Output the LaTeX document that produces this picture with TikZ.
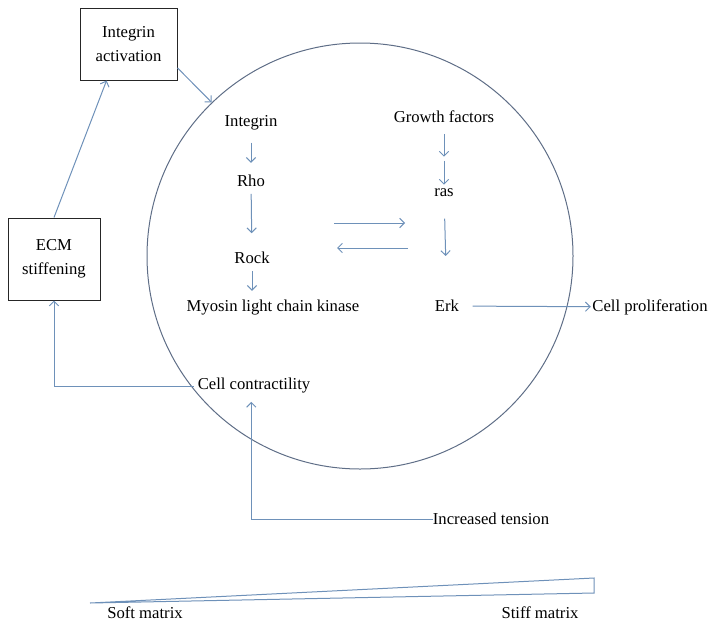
\documentclass[tikz,border=0pt]{standalone}
\usepackage{fontspec}
\setmainfont{Liberation Serif}
\usetikzlibrary{arrows.meta}
\definecolor{arrowblue}{RGB}{110,145,185}
\definecolor{cellgrey}{RGB}{95,110,135}
\tikzset{
    flow/.style={draw=arrowblue, line width=0.75pt, -{Straight Barb[length=3.5pt,width=7pt]}},
    plain/.style={draw=arrowblue, line width=0.75pt},
    box/.style={draw=black!85, line width=0.75pt, align=center, inner sep=2pt},
    label/.style={inner sep=0pt}
}
\begin{document}
\begin{tikzpicture}[x=0.75pt, y=-0.75pt, font=\fontsize{12.5}{15}\selectfont]
        \useasboundingbox (0,0) rectangle (723,621);
        % the cell
        \node[draw=cellgrey, line width=0.75pt, circle, minimum size=319.5pt, inner sep=0pt] (cell) at (360,256) {};
        % outside boxes
        \node[box, minimum width=72.75pt, minimum height=54pt] (ia) at (128.5,44) {Integrin\\[3pt]activation};
        \node[box, minimum width=69pt, minimum height=61.5pt] (ecm) at (54,259) {ECM\\[3pt]stiffening};
        % left pathway
        \node[label] (integrin) at (251,123) {Integrin};
        \node[label] (rho) at (251,181) {Rho};
        \node[label] (rock) at (252,258) {Rock};
        \node[label] (mlck) at (273,308) {Myosin light chain kinase};
        % right pathway
        \node[label] (gf) at (444,117) {Growth factors};
        \node[label] (ras) at (444,193) {ras};
        \node[label] (erk) at (447,306) {Erk};
        \node[label] (cp) at (650,307) {Cell proliferation};
        \node[label] (cc) at (254,386) {Cell contractility};
        \node[label] (it) at (491,519) {Increased tension};
        \coordinate (crossa) at (334,223);
        \coordinate (crossb) at (405,223);
        \coordinate (crossc) at (408,248);
        \coordinate (crossd) at (337,248);
        % arrows
        \draw[flow, shorten <=9pt, shorten >=9pt] (integrin) -- (rho);
        \draw[flow, shorten <=5pt, shorten >=14pt] (rho) -- (rock);
        \draw[flow, shorten <=5pt, shorten >=7pt] (rock.south) -- (rock.south |- mlck.north);
        \draw[flow, shorten <=8pt, shorten >=24pt] (gf) -- (ras);
        \draw[flow, shorten <=28pt, shorten >=3pt] (gf) -- (ras);
        \draw[flow, shorten <=16pt, shorten >=33pt] (ras) -- (erk);
        \draw[flow] (crossa) -- (crossb);
        \draw[flow] (crossc) -- (crossd);
        \draw[flow, shorten <=10pt, shorten >=1pt] (erk) -- (cp);
        \draw[flow] (ia.334) -- (cell.134);
        \draw[flow] (ecm.north) -- (ia.239);
        \draw[flow, shorten <=3pt] (cc.west) -| (ecm.south);
        \draw[flow, shorten >=6pt] (it.west) -| ([xshift=-2pt]cc.south);
        % stiffness wedge
        \draw[plain] (90,603) -- (594,578) -- (594,593) -- cycle;
        \node[label] (soft) at (145,613) {Soft matrix};
        \node[label] (stiff) at (540,613) {Stiff matrix};
    \end{tikzpicture}
\end{document}
